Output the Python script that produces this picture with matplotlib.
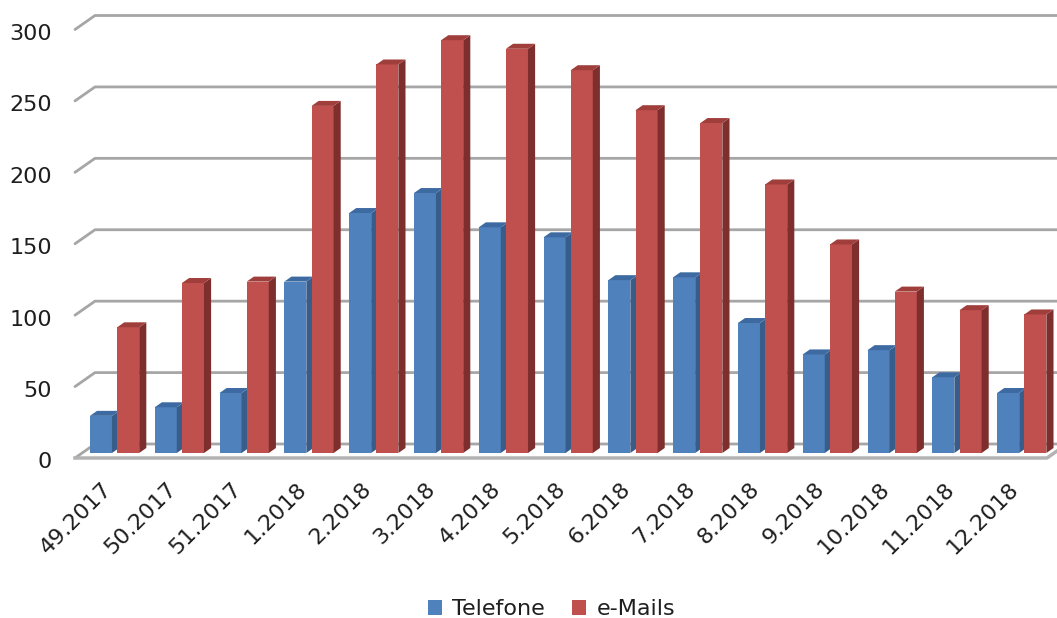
import matplotlib
matplotlib.use('Agg')
import matplotlib.pyplot as plt
from matplotlib.patches import Patch
import matplotlib.transforms as mtransforms
import numpy as np

categories = ['49.2017', '50.2017', '51.2017', '1.2018', '2.2018', '3.2018', '4.2018',
              '5.2018', '6.2018', '7.2018', '8.2018', '9.2018', '10.2018', '11.2018', '12.2018']
telefone = [26, 32, 42, 120, 168, 182, 158, 151, 121, 123, 91, 69, 72, 53, 42]
emails = [88, 119, 120, 243, 272, 289, 283, 268, 240, 231, 188, 146, 113, 100, 97]
yticks = [0, 50, 100, 150, 200, 250, 300]
series_names = ['Telefone', 'e-Mails']

W, H, DPI = 1057, 618, 100
plt.rcParams['font.family'] = ['DejaVu Sans']
fig = plt.figure(figsize=(W / DPI, H / DPI), dpi=DPI)
ax_left, ax_right, ax_bottom, ax_top = 75, 1047, 458, 29.5
ax = fig.add_axes([ax_left / W, (H - ax_bottom) / H, (ax_right - ax_left) / W, (ax_bottom - ax_top) / H])
n = len(categories)
xmin, xmax = -0.5, n - 0.5
ax.set_xlim(xmin, xmax)
ax.set_ylim(0, 300)

px_x = (ax_right - ax_left) / (xmax - xmin)
px_y = (ax_bottom - ax_top) / 300
DX = 20 / px_x   # full depth offset (data units)
DY = 14 / px_y

grid_c = '#a6a6a6'
# back wall gridlines + side wall diagonals
for v in yticks:
    ax.plot([xmin, xmin + DX, xmax + DX], [v, v + DY, v + DY], color=grid_c, lw=2,
            solid_capstyle='round', clip_on=False, zorder=1)
# floor front and right edge
ax.plot([xmin, xmax, xmax + DX], [0, 0, DY], color='#b3b3b3', lw=2.5,
        solid_joinstyle='round', clip_on=False, zorder=1)

dF = 5 / 14
dd = 5 / 14
w = 0.34
series = [
    (telefone, -0.21, '#4F81BD', '#385D8A', '#3E6AA2', 3),
    (emails, 0.21, '#C0504D', '#7E2F2D', '#A03E3B', 4),
]
x = np.arange(n)
for vals, off, fc, sc, tc, z in series:
    vals = np.asarray(vals, dtype=float)
    xc = x + off + dF * DX
    b = dF * DY
    ax.bar(xc, vals, width=w, bottom=b, color=fc, edgecolor='none', zorder=z, clip_on=False)
    for xi, v in zip(xc, vals):
        xl, xr = xi - w / 2, xi + w / 2
        ax.fill([xr, xr + dd * DX, xr + dd * DX, xr],
                [b, b + dd * DY, b + v + dd * DY, b + v], color=sc, lw=0, zorder=z, clip_on=False)
        ax.fill([xl, xr, xr + dd * DX, xl + dd * DX],
                [b + v, b + v, b + v + dd * DY, b + v + dd * DY], color=tc, lw=0, zorder=z, clip_on=False)

txt_c = '#1e1e1e'
ax.set_yticks(yticks)
ax.set_yticklabels([str(t) for t in yticks], fontsize=16, color=txt_c)
ax.tick_params(axis='y', length=0, pad=16.5)
yshift = mtransforms.ScaledTranslation(0, -2.5 / DPI, fig.dpi_scale_trans)
for lab in ax.get_yticklabels():
    lab.set_transform(lab.get_transform() + yshift)
ax.set_xticks(x)
ax.set_xticklabels(categories, rotation=45, ha='right', va='top', rotation_mode='anchor',
                   fontsize=16, color=txt_c)
ax.tick_params(axis='x', length=0, pad=15)
shift = mtransforms.ScaledTranslation(-6 / DPI, 0, fig.dpi_scale_trans)
for lab in ax.get_xticklabels():
    lab.set_transform(lab.get_transform() + shift)
for s in ax.spines.values():
    s.set_visible(False)
ax.patch.set_visible(False)

handles = [Patch(facecolor='#4F81BD', edgecolor='none'), Patch(facecolor='#C0504D', edgecolor='none')]
fig.legend(handles, series_names, loc='center', bbox_to_anchor=(551.5 / W, 9 / H), ncol=2,
           frameon=False, fontsize=16, handlelength=0.65, handleheight=0.65,
           handletextpad=0.45, columnspacing=1.2, labelcolor=txt_c)

fig.savefig('out.png', dpi=DPI)
